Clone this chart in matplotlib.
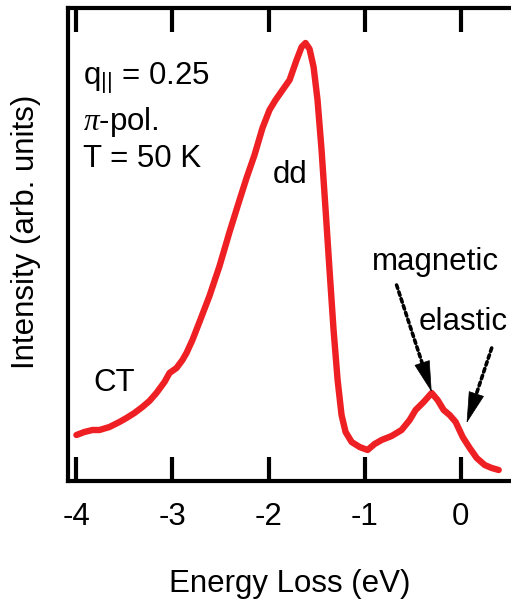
import matplotlib
matplotlib.use("Agg")
import matplotlib.pyplot as plt
import numpy as np

plt.rcParams['font.family'] = ['Liberation Sans', 'DejaVu Sans']
plt.rcParams['mathtext.fontset'] = 'custom'
plt.rcParams['mathtext.rm'] = 'Liberation Sans'
plt.rcParams['mathtext.it'] = 'Liberation Serif:italic'

# RIXS spectrum, energy loss (eV) vs intensity (arb. units)
energy = [-4.000, -3.917, -3.833, -3.760, -3.656, -3.552, -3.479, -3.396,
          -3.313, -3.240, -3.167, -3.083, -3.031, -2.958, -2.896, -2.854,
          -2.792, -2.719, -2.615, -2.510, -2.406, -2.302, -2.229, -2.146,
          -2.063, -1.990, -1.927, -1.854, -1.781, -1.708, -1.656,
          -1.615, -1.573, -1.531, -1.490, -1.448, -1.406, -1.365, -1.323,
          -1.281, -1.240, -1.198, -1.135, -1.052, -0.969, -0.896, -0.823,
          -0.719, -0.615, -0.531, -0.469, -0.385, -0.302, -0.240, -0.177,
          -0.115, -0.052, 0.021, 0.094, 0.167, 0.250, 0.323, 0.396]
intensity = [46, 49, 51, 51, 54, 59, 63, 68,
             74, 80, 88, 99, 108, 113, 121, 128,
             141, 159, 185, 215, 249, 281, 303, 326,
             353, 371, 381, 391, 401, 421, 434,
             438, 432, 414, 381, 331, 271, 211, 151,
             101, 66, 49, 39, 34, 31, 37, 41,
             45, 51, 61, 71, 79, 88, 81, 71,
             66, 59, 44, 33, 23, 16, 13, 11]

xticks = [-4, -3, -2, -1, 0]
xticklabels = ['-4', '-3', '-2', '-1', '0']

red = '#ee2024'
fs = 22.5

fig = plt.figure(figsize=(5.11, 6.01), dpi=100)
ax = fig.add_axes([68 / 511, 1 - 481 / 601, 1 - 68 / 511, 473 / 601])

ax.plot(energy, intensity, color=red, lw=4.6, solid_joinstyle='round', solid_capstyle='round')

ax.set_xlim(-4.0875, 0.524)
ax.set_ylim(0, 473)

ax.set_xticks(xticks)
ax.set_xticklabels(xticklabels)
ax.set_yticks([])
ax.tick_params(axis='x', direction='in', length=17, width=3, top=True,
               labelsize=fs, pad=15)
for side in ['left', 'bottom', 'top']:
    ax.spines[side].set_linewidth(3)
ax.spines['right'].set_visible(False)

ax.set_xlabel('Energy Loss (eV)', fontsize=fs)
ax.xaxis.set_label_coords(0.501, -0.186)
ax.set_ylabel('Intensity (arb. units)', fontsize=fs)
ax.yaxis.set_label_coords(-0.06, 0.526)

# sample conditions
ax.text(-3.93, 403, r'q$_{\mathregular{||}}$ = 0.25', fontsize=fs, va='center')
ax.text(-3.93, 359, r'$\pi$-pol.', fontsize=fs, va='center')
ax.text(-3.93, 322, 'T = 50 K', fontsize=fs, va='center')

ax.text(-1.78, 306, 'dd', fontsize=fs, ha='center', va='center')
ax.text(-3.61, 98, 'CT', fontsize=fs, ha='center', va='center')
ax.text(-0.26, 219, 'magnetic', fontsize=fs, ha='center', va='center')
ax.text(0.03, 159, 'elastic', fontsize=fs, ha='center', va='center')


# dotted shaft with a solid filled head
def dotted_arrow(tail, tip, head_px=28):
    to_px = ax.transData
    p_tail = to_px.transform(tail)
    p_tip = to_px.transform(tip)
    d = (p_tail - p_tip) / np.hypot(*(p_tail - p_tip))
    base = to_px.inverted().transform(p_tip + d * head_px)
    ax.annotate('', xy=base, xytext=tail,
                arrowprops=dict(arrowstyle='-', color='black', lw=2.6,
                                linestyle=(0, (1, 1)), shrinkA=0, shrinkB=0))
    ax.annotate('', xy=tip, xytext=base,
                arrowprops=dict(arrowstyle='-|>,head_length=1.05,head_width=0.27',
                                color='black', lw=0.5, shrinkA=0, shrinkB=0,
                                mutation_scale=20))


dotted_arrow((-0.667, 196), (-0.302, 89))
dotted_arrow((0.323, 133), (0.0625, 58))

fig.savefig('out.png', dpi=100)
